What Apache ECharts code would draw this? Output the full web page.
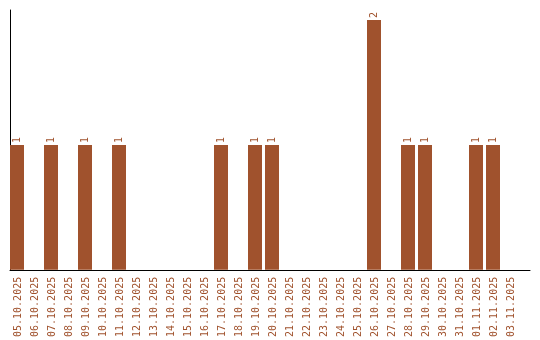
<!DOCTYPE html>
<html><head><meta charset="utf-8">
<script src="https://cdn.jsdelivr.net/npm/echarts@6/dist/echarts.min.js"></script>
<style>html,body{margin:0;padding:0;background:#fff}#c{width:540px;height:340px}</style>
</head><body><div id="c"></div>
<script>
var categories = ["05.10.2025","06.10.2025","07.10.2025","08.10.2025","09.10.2025","10.10.2025","11.10.2025","12.10.2025","13.10.2025","14.10.2025","15.10.2025","16.10.2025","17.10.2025","18.10.2025","19.10.2025","20.10.2025","21.10.2025","22.10.2025","23.10.2025","24.10.2025","25.10.2025","26.10.2025","27.10.2025","28.10.2025","29.10.2025","30.10.2025","31.10.2025","01.11.2025","02.11.2025","03.11.2025"];
var values = [1,0,1,0,1,0,1,0,0,0,0,0,1,0,1,1,0,0,0,0,0,2,0,1,1,0,0,1,1,0];
var color = '#A0522D';
var font = '"DejaVu Sans Mono", "Liberation Mono", monospace';
var chart = echarts.init(document.getElementById('c'), null, {renderer:'canvas'});
chart.setOption({
  animation:false,
  grid:[
    {left:10, right:20, top:10, bottom:70, containLabel:false},
    {left:10, right:10, top:10, bottom:70, containLabel:false}
  ],
  xAxis:[{
    type:'category', data:categories, gridIndex:0,
    axisLine:{show:false}, axisTick:{show:false},
    axisLabel:{rotate:90, color:color, fontFamily:font, fontSize:10, margin:7, interval:0}
  },{
    type:'category', data:[''], gridIndex:1,
    axisLine:{show:true, lineStyle:{color:'#000', width:1}}, axisTick:{show:false}, axisLabel:{show:false}
  }],
  yAxis:[{
    type:'value', min:0, max:2.08, gridIndex:0,
    axisLine:{show:true, lineStyle:{color:'#000', width:1}}, axisTick:{show:false},
    axisLabel:{show:false}, splitLine:{show:false}
  },{
    type:'value', gridIndex:1, show:false
  }],
  series:[{
    type:'bar', data:values.map(function(v){return v===0?null:v;}),
    barWidth:14, barGap:'0%',
    itemStyle:{color:color},
    label:{show:true, position:'top', rotate:90, align:'left', verticalAlign:'middle', distance:2,
      color:color, fontFamily:font, fontSize:10}
  },{
    type:'bar', data:values.map(function(){return null;}), barWidth:3, itemStyle:{color:'transparent'}
  }]
});
</script></body></html>
